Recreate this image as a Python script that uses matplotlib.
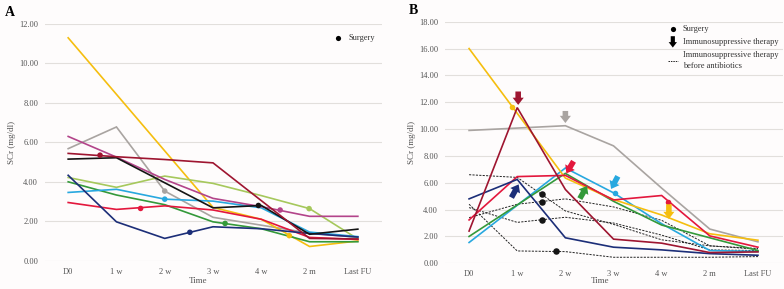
import numpy as np
import matplotlib
matplotlib.use('Agg')
import matplotlib.pyplot as plt

nan = np.nan

# ============================================================
# DATA
# ============================================================
times = ['D0', '1 w', '2 w', '3 w', '4 w', '2 m', 'Last FU']

# panel A (SCr, mg/dl)
a_yellow = [11.3, nan, nan, 2.7, 2.1, 0.72, 1.0]
a_pink = [6.3, 5.25, 4.12, 3.16, 2.74, 2.25, 2.25]
a_gray = [5.68, 6.78, 3.53, 2.2, 1.8, 1.4, 1.18]
a_darkred = [5.44, 5.27, 5.13, 4.96, nan, 1.13, 1.1]
a_black = [5.15, 5.22, 3.95, 2.68, 2.8, 1.34, 1.6]
a_navy = [4.33, 1.97, 1.13, 1.72, 1.62, 1.38, 1.2]
a_lgreen = [4.22, 3.72, 4.29, 3.92, 3.3, 2.64, 1.1]
a_green = [4.0, 3.33, 2.84, 1.97, 1.62, 0.96, 0.96]
a_cyan = [3.46, 3.62, 3.12, 3.02, 2.68, 1.45, 1.22]
a_red = [2.95, 2.6, 2.78, 2.57, 2.1, 1.18, 1.08]

# surgery events, panel A (time position, value)
a_dot_x = [0.66, 1.5, 2.0, 2.0, 2.52, 3.25, 3.94, 4.39, 4.58, 4.99]
a_dot_y = [5.35, 2.65, 3.53, 3.12, 1.44, 1.89, 2.8, 2.57, 1.27, 2.64]
a_dot_c = ['darkred', 'red', 'gray', 'cyan', 'navy', 'green', 'black',
           'pink', 'yellow', 'lgreen']

# panel B
b_yellow = [16.0, nan, 6.35, 4.75, 3.6, 2.2, 1.72]
b_gray = [9.9, nan, 10.25, 8.75, 5.6, 2.55, 1.6]
b_darkred = [2.4, 11.6, 5.5, 1.8, 1.5, 0.8, 0.85]
b_navy = [4.8, 6.25, 1.9, 1.2, 1.0, 0.72, 0.6]
b_red = [3.23, 6.46, 6.55, 4.72, 5.05, 2.04, 1.2]
b_green = [2.0, nan, 6.7, 4.62, 2.85, 1.9, 0.95]
b_cyan = [1.55, nan, 7.1, 5.25, 2.95, 0.95, 0.88]

# immunosuppressive therapy before antibiotics (dashed)
b_dash1 = [6.6, 6.4, 3.9, 2.9, 1.75, 1.3, 1.1]
b_dash2 = [4.4, 0.92, 0.87, 0.45, 0.45, 0.45, 0.5]
b_dash3 = [4.15, 3.05, 3.43, 3.0, 2.1, 1.0, 0.95]
b_dash4 = [3.4, 4.4, 4.8, 4.2, 3.2, 1.3, 1.05]

# surgery events, panel B
b_dot_x = [0.89, 1.51, 1.51, 1.51, 1.8, 3.03, 4.14]
b_dot_y = [11.64, 5.15, 4.6, 3.23, 0.94, 5.27, 4.55]
b_dot_c = ['yellow', 'black', 'black', 'black', 'black', 'cyan', 'red']

# immunosuppressive therapy start, panel B (tail -> tip)
b_arr_x0 = [1.02, 2.0, 0.88, 2.17, 2.30, 3.09, 4.15]
b_arr_y0 = [12.8, 11.35, 4.9, 7.6, 4.82, 6.48, 4.4]
b_arr_x1 = [1.02, 2.0, 1.03, 2.02, 2.45, 2.95, 4.15]
b_arr_y1 = [11.8, 10.45, 5.88, 6.7, 5.77, 5.54, 3.3]
b_arr_c = ['darkred', 'gray', 'navy', 'red', 'green', 'cyan', 'yellow']

colors = {
    'yellow': '#F5BE0F',
    'pink': '#B3448A',
    'gray': '#A9A4A1',
    'darkred': '#9E1530',
    'black': '#151515',
    'navy': '#1C2E78',
    'lgreen': '#A6C85C',
    'green': '#34993A',
    'cyan': '#28A8DF',
    'red': '#E3173D',
}

# ============================================================
# FIGURE
# ============================================================
plt.rcParams['font.family'] = ['Liberation Serif', 'DejaVu Serif']
bg = '#FEFCFC'
txt_c = '#555555'

fig = plt.figure(figsize=(7.84, 2.89), dpi=100, facecolor=bg)

axA = fig.add_axes([45/784, 1-260.7/289, 337/784, 236.7/289], facecolor=bg)
axB = fig.add_axes([445/784, 1-263.3/289, 338/784, 241.6/289], facecolor=bg)

x = np.arange(len(times))


def draw_line(ax, vals, color, lw=1.2, ls='-', z=2):
    v = np.array(vals, dtype=float)
    m = ~np.isnan(v)
    ax.plot(x[m], v[m], color=color, lw=lw, ls=ls, zorder=z,
            solid_joinstyle='miter')


def style(ax, ymax, xlab_pos, ylab_x):
    ax.set_ylim(0, ymax)
    ax.set_yticks(np.arange(0, ymax + 0.1, 2))
    ax.set_yticklabels(['%.2f' % t for t in np.arange(0, ymax + 0.1, 2)])
    ax.set_xticks(x)
    ax.set_xticklabels(times)
    for s in ax.spines.values():
        s.set_visible(False)
    ax.tick_params(length=0, labelsize=6, colors=txt_c, pad=5)
    ax.grid(axis='y', color='#E2DFDC', lw=0.8, zorder=0)
    ax.set_axisbelow(True)
    ax.set_xlabel('Time', fontsize=6.5, color=txt_c)
    ax.xaxis.set_label_coords(*xlab_pos)
    ax.set_ylabel('SCr (mg/dl)', fontsize=6.5, color=txt_c)
    ax.yaxis.set_label_coords(ylab_x, 0.5)


# ---------------- panel A ----------------
for vals, c in [(a_gray, 'gray'), (a_yellow, 'yellow'), (a_lgreen, 'lgreen'),
                (a_green, 'green'), (a_cyan, 'cyan'), (a_red, 'red'),
                (a_navy, 'navy'), (a_pink, 'pink'), (a_black, 'black'),
                (a_darkred, 'darkred')]:
    draw_line(axA, vals, colors[c])

axA.scatter(a_dot_x, a_dot_y, s=16, c=[colors[c] for c in a_dot_c],
            zorder=5, linewidths=0)

style(axA, 12, (0.455, -0.068), -0.085)
axA.set_xlim(-0.48, 6.5)

axA.scatter([0.869], [0.94], s=14, color='black', transform=axA.transAxes,
            clip_on=False, zorder=6, linewidths=0)
axA.text(0.9, 0.94, 'Surgery', transform=axA.transAxes, fontsize=6,
         color='#333333', va='center', ha='left')

# ---------------- panel B ----------------
for vals in [b_dash1, b_dash2, b_dash3, b_dash4]:
    draw_line(axB, vals, '#222222', lw=0.7, ls=(0, (2.2, 1.3)), z=2)

for vals, c in [(b_gray, 'gray'), (b_cyan, 'cyan'), (b_green, 'green'),
                (b_yellow, 'yellow'), (b_red, 'red'), (b_navy, 'navy'),
                (b_darkred, 'darkred')]:
    draw_line(axB, vals, colors[c], z=3)

for px, py, c in zip(b_dot_x, b_dot_y, b_dot_c):
    sz = 22 if c == 'black' else 16
    axB.scatter([px], [py], s=sz, color=colors[c], zorder=5, linewidths=0)

arrow_style = 'simple,head_length=0.65,head_width=1.0,tail_width=0.5'
for x0, y0, x1, y1, c in zip(b_arr_x0, b_arr_y0, b_arr_x1, b_arr_y1, b_arr_c):
    axB.annotate('', xy=(x1, y1), xytext=(x0, y0),
                 arrowprops=dict(arrowstyle=arrow_style, color=colors[c],
                                 mutation_scale=8, shrinkA=0, shrinkB=0,
                                 lw=0), zorder=6)

style(axB, 18, (0.46, -0.056), -0.086)
axB.set_xlim(-0.5, 6.52)

# legend B
axB.scatter([0.674], [0.969], s=14, color='black', transform=axB.transAxes,
            clip_on=False, zorder=6, linewidths=0)
axB.text(0.704, 0.969, 'Surgery', transform=axB.transAxes, fontsize=6,
         color='#333333', va='center', ha='left')
axB.annotate('', xy=(0.674, 0.893), xytext=(0.674, 0.94),
             xycoords='axes fraction', textcoords='axes fraction',
             arrowprops=dict(arrowstyle=arrow_style, color='black',
                             mutation_scale=6, shrinkA=0, shrinkB=0, lw=0))
axB.text(0.704, 0.915, 'Immunosuppressive therapy', transform=axB.transAxes,
         fontsize=6, color='#333333', va='center', ha='left')
axB.plot([0.659, 0.688], [0.838, 0.838], transform=axB.transAxes,
         color='#222222', lw=0.7, ls=(0, (1.5, 1.0)), clip_on=False)
axB.text(0.704, 0.841, 'Immunosuppressive therapy\nbefore antibiotics',
         transform=axB.transAxes, fontsize=6, color='#333333',
         va='center', ha='left', linespacing=1.5)

# panel letters
fig.text(10/784, 1-12/289, 'A', fontsize=10, fontweight='bold',
         va='center', ha='center')
fig.text(413/784, 1-11/289, 'B', fontsize=10, fontweight='bold',
         va='center', ha='center')

fig.savefig('out.png', dpi=100, facecolor=bg)
